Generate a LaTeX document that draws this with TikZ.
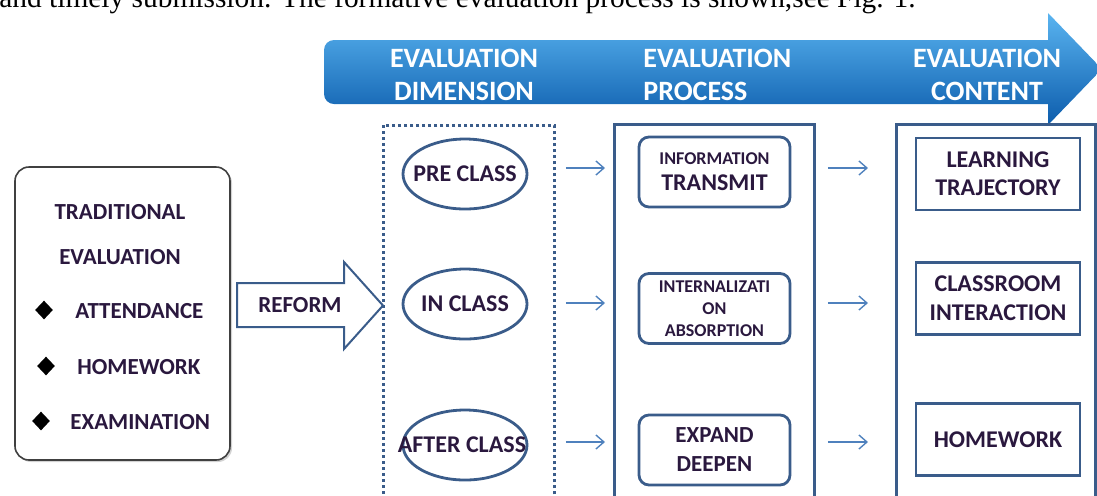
\documentclass[tikz,border=0pt]{standalone}
\usepackage{fontspec}
\setmainfont{Carlito}
\newfontfamily\bodyserif{Liberation Serif}
\usetikzlibrary{shapes.geometric, arrows.meta, positioning, shadows}
\definecolor{bandtop}{RGB}{90,180,240}
\definecolor{bandmid}{RGB}{28,128,212}
\definecolor{bandbot}{RGB}{12,92,172}
\definecolor{frameblue}{RGB}{58,92,138}
\definecolor{linkblue}{RGB}{79,129,189}
\definecolor{ink}{RGB}{42,24,62}
\tikzstyle{lbl} = [text=ink, font=\bfseries, align=center, inner sep=0pt]
\tikzstyle{head} = [text=white, font=\bfseries\fontsize{14}{16.5}\selectfont, inner sep=0pt]
\tikzstyle{oldbox} = [rectangle, rounded corners=7pt, draw=black!75, line width=0.8pt, fill=white, minimum width=107.5pt, minimum height=146.5pt, drop shadow={shadow xshift=1pt, shadow yshift=-1pt, opacity=0.35}]
\tikzstyle{bullet} = [diamond, fill=black, inner sep=0pt, minimum width=9pt, minimum height=9.5pt]
\tikzstyle{column} = [rectangle, draw=frameblue, line width=1.4pt, minimum height=195pt]
\tikzstyle{stage} = [ellipse, draw=frameblue, line width=1.4pt, minimum width=62pt, minimum height=35pt, inner sep=0pt]
\tikzstyle{process} = [rectangle, rounded corners=5pt, draw=frameblue, line width=1.4pt, minimum width=75.5pt, minimum height=35pt, inner sep=0pt]
\tikzstyle{content} = [rectangle, draw=frameblue, line width=1.4pt, minimum width=82pt, minimum height=36pt, inner sep=0pt]
\tikzstyle{reformarrow} = [draw=frameblue, line width=1pt, fill=white, line join=miter]
\tikzstyle{arrow} = [draw=linkblue, line width=0.7pt, -{Straight Barb[length=4pt,width=7pt]}]

\begin{document}
\begin{tikzpicture}[x=0.5pt, y=-0.5pt]
    \useasboundingbox (0,0) rectangle (1097,495);
    \clip (0,0) rectangle (1097,495);

    \node (caption) [anchor=base west, inner sep=0pt, font=\bodyserif\fontsize{14.7}{16}\selectfont] at (-1,7) {and timely submission. The formative evaluation process is shown,see Fig. 1.};

    % banner
    \shade[top color=bandtop, middle color=bandmid, bottom color=bandbot]
        (334,40) -- (1048,40) -- (1048,13) -- (1102,69) -- (1048,125) -- (1048,104)
        -- (334,104) arc[start angle=270, end angle=180, radius=5pt] -- (324,50)
        arc[start angle=180, end angle=90, radius=5pt] -- cycle;
    \node (dimhead) [head, align=center] at (464,75) {EVALUATION\\DIMENSION};
    \node (prochead) [head, align=left, anchor=west] at (643,75) {EVALUATION\\PROCESS};
    \node (conthead) [head, align=center] at (987,75) {EVALUATION\\CONTENT};

    % traditional evaluation
    \node (trad) [oldbox] at (122.5,313.5) {};
    \node (tradtitle) [lbl, font=\bfseries\fontsize{11.5}{22.5}\selectfont] at (120,234.5) {TRADITIONAL\\EVALUATION};
    \node (b1) [bullet] at (44,310) {};
    \node (b2) [bullet] at (46,366) {};
    \node (b3) [bullet] at (41,421) {};
    \node (att) [lbl, anchor=west, font=\bfseries\fontsize{11.5}{14}\selectfont] at (75,311) {ATTENDANCE};
    \node (hw0) [lbl, anchor=west, font=\bfseries\fontsize{11.5}{14}\selectfont] at (77,367) {HOMEWORK};
    \node (exam) [lbl, anchor=west, font=\bfseries\fontsize{11.5}{14}\selectfont] at (70,422) {EXAMINATION};

    \draw [reformarrow] (237,283) -- (344,283) -- (344,262) -- (383,305.5) -- (344,349) -- (344,327) -- (237,327) -- cycle;
    \node (reform) [lbl, font=\bfseries\fontsize{11.5}{14}\selectfont] at (300,305) {REFORM};

    % three columns
    \node (dimbox) [column, draw=frameblue, dash pattern=on 1.5pt off 1.5pt, minimum width=85.5pt, anchor=north west] at (382,124) {};
    \node (procbox) [column, minimum width=100pt, anchor=north west] at (613,123) {};
    \node (contbox) [column, minimum width=99.5pt, anchor=north west] at (895,123) {};

    \node (pre) [stage] at (465,174) {};
    \node (during) [stage] at (465,304) {};
    \node (post) [stage] at (465,445) {};
    \node [lbl, font=\bfseries\fontsize{12}{14}\selectfont] at (pre) {PRE CLASS};
    \node [lbl, font=\bfseries\fontsize{12}{14}\selectfont] at (during) {IN CLASS};
    \node [lbl, font=\bfseries\fontsize{12}{14}\selectfont] at (462,445) {AFTER CLASS};

    \node (info) [process, lbl] at (714.5,172) {{\fontsize{9}{12}\selectfont INFORMATION}\\[1pt]{\fontsize{12}{14}\selectfont TRANSMIT}};
    \node (intern) [process, lbl, font=\bfseries\fontsize{9}{11}\selectfont] at (714.5,308.5) {INTERNALIZATI\\ON\\ABSORPTION};
    \node (expand) [process, lbl, font=\bfseries\fontsize{11.5}{14.5}\selectfont] at (714.5,450) {EXPAND\\DEEPEN};

    \node (learn) [content, lbl, font=\bfseries\fontsize{12}{14}\selectfont] at (998,174) {LEARNING\\TRAJECTORY};
    \node (interact) [content, lbl, font=\bfseries\fontsize{12}{14.5}\selectfont] at (998,298.5) {CLASSROOM\\INTERACTION};
    \node (hw) [content, lbl, font=\bfseries\fontsize{12}{14}\selectfont] at (998,439.5) {HOMEWORK};

    \foreach \y in {168,303,442} {
        \draw [arrow] ([xshift=5pt]dimbox.east |- 0,\y) -- ([xshift=-4pt]procbox.west |- 0,\y);
        \draw [arrow] ([xshift=6pt]procbox.east |- 0,\y) -- ([xshift=-13.5pt]contbox.west |- 0,\y);
    }
\end{tikzpicture}
\end{document}
